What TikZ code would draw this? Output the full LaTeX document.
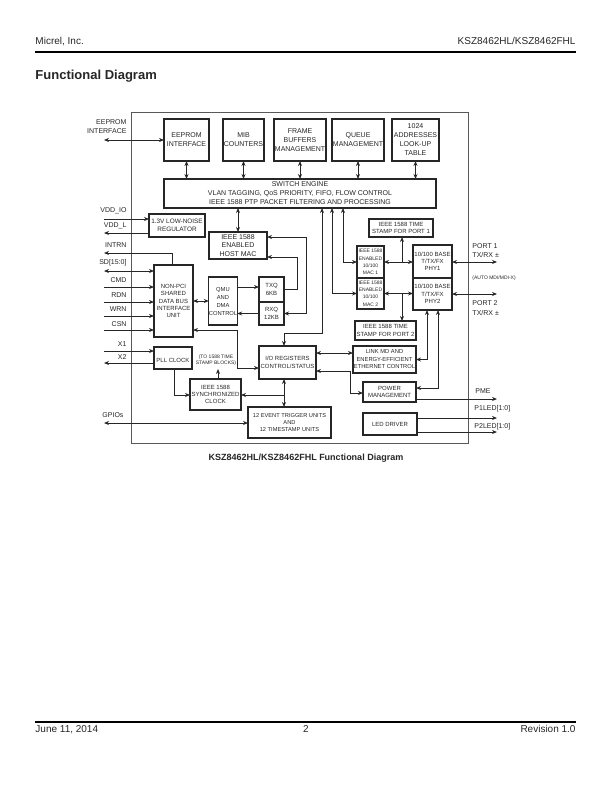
\documentclass[tikz,border=0pt]{standalone}
\usepackage{fontspec}
\setmainfont{Liberation Sans}
\usetikzlibrary{arrows.meta,positioning}
\definecolor{ink}{HTML}{262626}

\begin{document}
\begin{tikzpicture}[x=1pt,y=-1pt,>={Stealth[length=5pt,width=4pt]},
    color=ink,line width=0.95pt,
    blk/.style={draw,line width=1.05pt,inner sep=0pt,outer sep=0pt,align=center,
                font=\fontsize{7}{9}\selectfont},
    blks/.style={blk,font=\fontsize{6}{7.3}\selectfont},
    blkt/.style={blk,font=\fontsize{5}{7.3}\selectfont},
    sig/.style={inner sep=0pt,font=\fontsize{7}{9.5}\selectfont}]
    \useasboundingbox (0,0) rectangle (612,792);

    \node[anchor=base west,inner sep=0pt,font=\fontsize{10}{12}\selectfont] (company) at (35,45) {Micrel, Inc.};
    \node[anchor=base east,inner sep=0pt,font=\fontsize{10}{12}\selectfont] (partno) at (576,45) {KSZ8462HL/KSZ8462FHL};
    \draw[color=black,line width=1.2pt] (35,52) -- (576,52);
    \node[anchor=base west,inner sep=0pt,font=\bfseries\fontsize{13}{15}\selectfont] (title) at (35,80) {Functional Diagram};
    \draw[color=black,line width=1.2pt] (35,722) -- (576,722);
    \node[anchor=base west,inner sep=0pt,font=\fontsize{10}{12}\selectfont] (date) at (35,732) {June 11, 2014};
    \node[anchor=base,inner sep=0pt,font=\fontsize{10}{12}\selectfont] (page) at (306,732) {2};
    \node[anchor=base east,inner sep=0pt,font=\fontsize{10}{12}\selectfont] (rev) at (576,732) {Revision 1.0};

    \draw[color=black!65,line width=0.8pt] (131,112) rectangle (468,443);

    \node[blk,minimum width=45,minimum height=42] (eeprom) at (186.5,140) {EEPROM\\INTERFACE};
    \node[blk,minimum width=41,minimum height=42] (mib) at (243.5,140) {MIB\\COUNTERS};
    \node[blk,minimum width=52,minimum height=42] (frame) at (300,140) {FRAME\\BUFFERS\\MANAGEMENT};
    \node[blk,minimum width=52,minimum height=42] (queue) at (358,140) {QUEUE\\MANAGEMENT};
    \node[blk,minimum width=47,minimum height=42] (lookup) at (415.5,140) {1024\\ADDRESSES\\LOOK-UP\\TABLE};
    \node[blk,minimum width=272,minimum height=29] (switch) at (300,193.5)
        {SWITCH ENGINE\\VLAN TAGGING, QoS PRIORITY, FIFO, FLOW CONTROL\\IEEE 1588 PTP PACKET FILTERING AND PROCESSING};
    \node[blk,font=\fontsize{6.4}{8.5}\selectfont,minimum width=56,minimum height=23] (reg) at (177,225.5) {1.3V LOW-NOISE\\REGULATOR};
    \node[blk,font=\fontsize{7}{8.3}\selectfont,minimum width=58,minimum height=27] (hostmac) at (238,245.5) {IEEE 1588\\ENABLED\\HOST MAC};
    \node[blks,minimum width=39,minimum height=72] (nonpci) at (173.5,301) {NON-PCI\\SHARED\\DATA BUS\\INTERFACE\\UNIT};
    \node[blks,font=\fontsize{5.8}{8}\selectfont,minimum width=28,minimum height=48] (qmu) at (223,301) {QMU\\AND\\DMA\\CONTROL};
    \node[blks,minimum width=25,minimum height=25] (txq) at (271.5,289.5) {TXQ\\6KB};
    \node[blks,minimum width=25,minimum height=23,below=0pt of txq] (rxq) {RXQ\\12KB};
    \node[blks,font=\fontsize{6}{7.5}\selectfont,minimum width=64,minimum height=18] (ts1) at (401,228) {IEEE 1588 TIME\\STAMP FOR PORT 1};
    \node[blkt,minimum width=27,minimum height=32] (mac1) at (370.5,262) {IEEE 1588\\ENABLED\\10/100\\MAC 1};
    \node[blkt,minimum width=27,minimum height=31,below=0pt of mac1] (mac2) {IEEE 1588\\ENABLED\\10/100\\MAC 2};
    \node[blks,minimum width=39,minimum height=33] (phy1) at (432.5,261.5) {10/100 BASE\\T/TX/FX\\PHY1};
    \node[blks,minimum width=39,minimum height=32,below=0pt of phy1] (phy2) {10/100 BASE\\T/TX/FX\\PHY2};
    \node[blks,font=\fontsize{6}{7.5}\selectfont,minimum width=61,minimum height=19] (ts2) at (385.5,330.5) {IEEE 1588 TIME\\STAMP FOR PORT 2};
    \node[blks,font=\fontsize{5.8}{7.5}\selectfont,minimum width=63,minimum height=27] (linkmd) at (384.5,359.5) {LINK MD AND\\ENERGY-EFFICIENT\\ETHERNET CONTROL};
    \node[blks,minimum width=57,minimum height=33] (io) at (287.5,362.5) {I/O REGISTERS\\CONTROL/STATUS};
    \node[blks,minimum width=53,minimum height=20] (power) at (389.5,392) {POWER\\MANAGEMENT};
    \node[blks,minimum width=54,minimum height=22] (led) at (390,424) {LED DRIVER};
    \node[blks,font=\fontsize{5.7}{7}\selectfont,minimum width=83,minimum height=31] (event) at (289.5,422.5) {12 EVENT TRIGGER UNITS\\AND\\12 TIMESTAMP UNITS};
    \node[blks,font=\fontsize{6}{7}\selectfont,minimum width=51,minimum height=31] (sync) at (215.5,394.5) {IEEE 1588\\SYNCHRONIZED\\CLOCK};
    \node[blks,minimum width=38,minimum height=22,text height=10] (pll) at (173,358) {PLL CLOCK};
    \node[inner sep=0pt,align=center,font=\fontsize{5}{6}\selectfont] (tsnote) at (216,360.5) {(TO 1588 TIME\\STAMP BLOCKS)};

    \coordinate (eepromio) at (104,140);
    \coordinate (vddio) at (104,219);
    \coordinate (vddl) at (104,233);
    \coordinate (intrn) at (104,253);
    \coordinate (sd) at (104,271);
    \coordinate (cmd) at (104,287);
    \coordinate (rdn) at (104,302);
    \coordinate (wrn) at (104,316);
    \coordinate (csn) at (104,330);
    \coordinate (xone) at (104,351);
    \coordinate (xtwo) at (104,363);
    \coordinate (gpio) at (104,423);
    \coordinate (port1) at (497,262);
    \coordinate (port2) at (497,294);
    \coordinate (pme) at (497,399);
    \coordinate (ledone) at (497,418);
    \coordinate (ledtwo) at (497,432);

    \node[sig,anchor=east,align=right] (eepromlbl) at (127,126.5) {EEPROM\\INTERFACE};
    \node[sig,anchor=east] (vddiolbl) at (127,211) {VDD\_IO};
    \node[sig,anchor=east] (vddllbl) at (127,226) {VDD\_L};
    \node[sig,anchor=east] (intrnlbl) at (127,245) {INTRN};
    \node[sig,anchor=east] (sdlbl) at (127,263) {SD[15:0]};
    \node[sig,anchor=east] (cmdlbl) at (127,280) {CMD};
    \node[sig,anchor=east] (rdnlbl) at (127,295) {RDN};
    \node[sig,anchor=east] (wrnlbl) at (127,309) {WRN};
    \node[sig,anchor=east] (csnlbl) at (127,324) {CSN};
    \node[sig,anchor=east] (xonelbl) at (127,344) {X1};
    \node[sig,anchor=east] (xtwolbl) at (127,357.5) {X2};
    \node[sig,anchor=west] (gpiolbl) at (102,415.5) {GPIOs};
    \node[sig,anchor=west,align=left] (port1lbl) at (472,250.5) {PORT 1\\TX/RX ±};
    \node[sig,anchor=west,font=\fontsize{5}{6}\selectfont] (mdilbl) at (472,278) {(AUTO MDI/MDI-X)};
    \node[sig,anchor=west,align=left] (port2lbl) at (472,308) {PORT 2\\TX/RX ±};
    \node[sig,anchor=west] (pmelbl) at (475,391.5) {PME};
    \node[sig,anchor=west] (ledonelbl) at (474,409) {P1LED[1:0]};
    \node[sig,anchor=west] (ledtwolbl) at (474,426.5) {P2LED[1:0]};
    \node[anchor=base,inner sep=0pt,font=\bfseries\fontsize{9}{11}\selectfont] (caption) at (306,460)
        {KSZ8462HL/KSZ8462FHL Functional Diagram};

    \draw[<->] (eepromio) -- (eeprom.west);
    \draw[<->] (eeprom.south) -- (eeprom.south |- switch.north);
    \draw[<->] (mib.south) -- (mib.south |- switch.north);
    \draw[<->] (frame.south) -- (frame.south |- switch.north);
    \draw[<->] (queue.south) -- (queue.south |- switch.north);
    \draw[<->] (lookup.south) -- (lookup.south |- switch.north);
    \draw[->] (vddio) -- (vddio -| reg.west);
    \draw[->] (vddl -| reg.west) -- (vddl);
    \draw[<->] (switch.south -| hostmac.north) -- (hostmac.north);
    \draw[->] (172,0 |- nonpci.north) |- (intrn);
    \draw[<->] (sd) -- (sd -| nonpci.west);
    \draw[->] (cmd) -- (cmd -| nonpci.west);
    \draw[->] (rdn) -- (rdn -| nonpci.west);
    \draw[->] (wrn) -- (wrn -| nonpci.west);
    \draw[->] (csn) -- (csn -| nonpci.west);
    \draw[<->] (nonpci.east) -- (qmu.west);
    \draw[->] (qmu.east |- 0,287) -- (txq.west |- 0,287);
    \draw[->] (rxq.west) -- (rxq.west -| qmu.east);
    \draw[->] (txq.east) -| (297,257) -- (hostmac.east |- 0,257);
    \draw[<->] (hostmac.east |- 0,237) -| (306,313.5) -- (rxq.east);
    \draw[<->] (343,0 |- switch.south) |- (mac1.west);
    \draw[<->] (332,0 |- switch.south) |- (mac2.west);
    \draw[<->] (322,0 |- switch.south) |- (284,333) -- (284,0 |- io.north);
    \draw[<->] (mac1.east) -- (mac1.east -| phy1.west);
    \draw[->] (402,0 |- mac1.east) -- (402,0 |- ts1.south);
    \draw[<->] (mac2.east) -- (mac2.east -| phy2.west);
    \draw[->] (402,0 |- mac2.east) -- (402,0 |- ts2.north);
    \draw[<->] (port1 -| phy1.east) -- (port1);
    \draw[<->] (port2 -| phy2.east) -- (port2);
    \draw[<->] (427,0 |- phy2.south) |- (linkmd.east);
    \draw[<->] (438,0 |- phy2.south) |- (power.east |- 0,388);
    \draw[<->] (io.east |- 0,353) -- (linkmd.west |- 0,353);
    \draw[<->] (io.east |- 0,371) -| (350,393) -- (power.west |- 0,393);
    \draw[->] (power.east |- pme) -- (pme);
    \draw[->] (led.east |- ledone) -- (ledone);
    \draw[->] (led.east |- ledtwo) -- (ledtwo);
    \draw[<->] (nonpci.east |- 0,330) -| (237,368) -- (io.west |- 0,368);
    \draw[->] (xone) -- (xone -| pll.west);
    \draw[->] (xtwo -| pll.west) -- (xtwo);
    \draw[->] (174,0 |- pll.south) |- (sync.west |- 0,395);
    \draw[<->] (284,0 |- io.south) -- (284,0 |- event.north);
    \draw[->] (284,395) -- (sync.east |- 0,395);
    \draw[->] (218,0 |- sync.north) -- (218,369);
    \draw[<->] (gpio) -- (gpio -| event.west);
\end{tikzpicture}
\end{document}
